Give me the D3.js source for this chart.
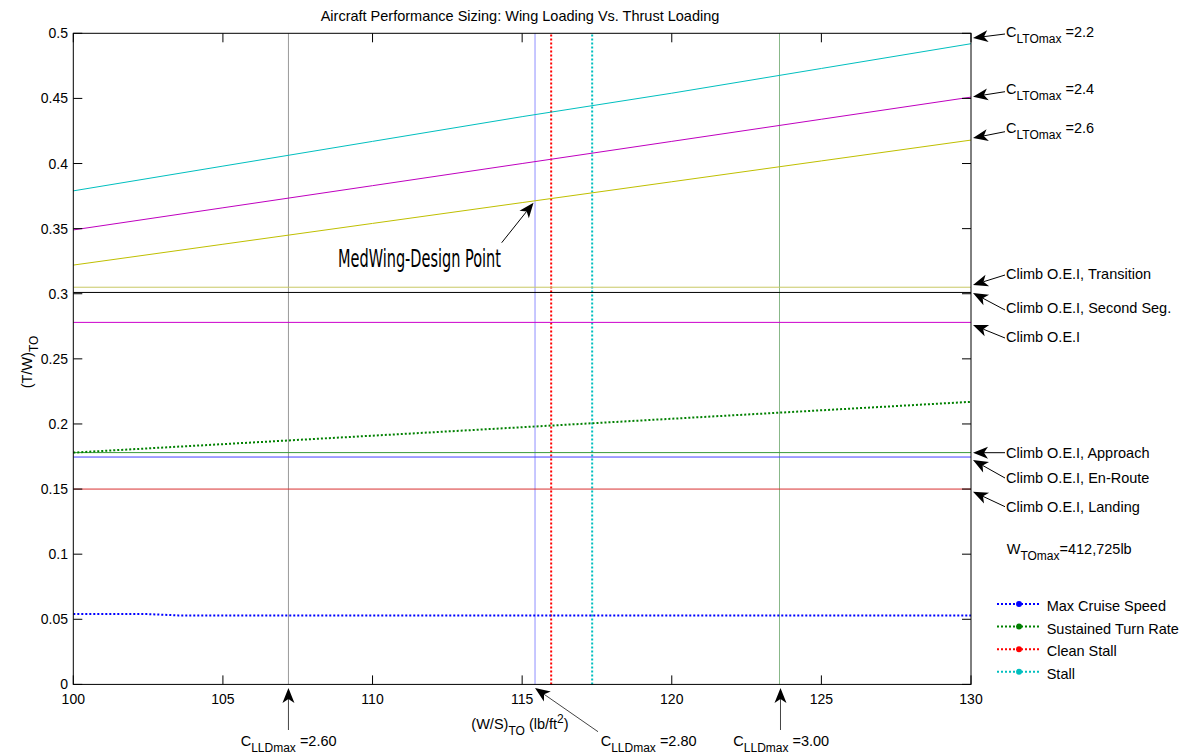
<!DOCTYPE html>
<html>
<head>
<meta charset="utf-8">
<script src="https://cdn.jsdelivr.net/npm/d3@7"></script>
<style>
  html, body { margin: 0; padding: 0; background: #fff; }
  svg { display: block; font-family: "Liberation Sans", Arial, sans-serif; }
</style>
</head>
<body>
<svg id="chart" width="1189" height="755"></svg>
<script>
// Wing loading sample points (lb/ft^2)
const wingLoading = [100, 105, 110, 115, 120, 125, 130];

// Take-off field length constraint, one curve per CLTOmax
const cltoMax22 = [0.379, 0.398, 0.417, 0.436, 0.454, 0.473, 0.492];
const cltoMax24 = [0.349, 0.366, 0.383, 0.400, 0.417, 0.434, 0.451];
const cltoMax26 = [0.322, 0.338, 0.354, 0.370, 0.386, 0.402, 0.418];
const cltoLabels = ["2.2", "2.4", "2.6"];

// Sustained turn rate constraint
const turnRate = [0.178, 0.1845, 0.191, 0.1975, 0.204, 0.2105, 0.217];

// Max cruise speed constraint
const cruiseWS = [100, 102.5, 103.5, 130];
const cruiseTW = [0.054, 0.054, 0.053, 0.053];

// One-engine-inoperative climb requirements (T/W)
const climbNames = ["Climb O.E.I, Transition", "Climb O.E.I, Second Seg.", "Climb O.E.I",
                    "Climb O.E.I, Approach", "Climb O.E.I, En-Route", "Climb O.E.I, Landing"];
const climbTW = [0.305, 0.301, 0.278, 0.178, 0.1746, 0.150];

// Landing field length constraint (W/S) per CLLDmax
const clldLabels = ["2.60", "2.80", "3.00"];
const landingWS = [107.19, 115.43, 123.6];

// Stall constraints (W/S)
const cleanStallWS = 115.97;
const stallWS = 117.34;

// Chosen design point
const designWS = 115.43;
const designTW = 0.371;

// Axis ticks
const xTicks = [100, 105, 110, 115, 120, 125, 130];
const yTicks = [0, 0.05, 0.1, 0.15, 0.2, 0.25, 0.3, 0.35, 0.4, 0.45, 0.5];
const legendNames = ["Max Cruise Speed", "Sustained Turn Rate", "Clean Stall", "Stall"];

// ---------------------------------------------------------------
const svg = d3.select("#chart");
const L = 73.3, R = 971, T = 33.3, B = 684.4;
const x = d3.scaleLinear().domain([100, 130]).range([L, R]);
const y = d3.scaleLinear().domain([0, 0.5]).range([B, T]);
const FS = 14.5, SUB = 12;

const C = {
  cyan: "#00bfbf", magenta: "#bf00bf", yellow: "#bfbf00",
  green: "#008000", blue: "#0000ff", red: "#ff0000"
};

const plot = svg.append("g");

// vertical constraint lines
const landingColors = ["#9a9a9a", "#9090ff", "#88b888"];
landingWS.forEach((ws, i) => {
  plot.append("line").attr("x1", x(ws)).attr("x2", x(ws)).attr("y1", y(0)).attr("y2", y(0.5))
    .attr("stroke", landingColors[i]).attr("stroke-width", 1);
});
plot.append("line").attr("x1", x(cleanStallWS)).attr("x2", x(cleanStallWS)).attr("y1", y(0)).attr("y2", y(0.5))
  .attr("stroke", C.red).attr("stroke-width", 2).attr("stroke-dasharray", "2,2");
plot.append("line").attr("x1", x(stallWS)).attr("x2", x(stallWS)).attr("y1", y(0)).attr("y2", y(0.5))
  .attr("stroke", C.cyan).attr("stroke-width", 2).attr("stroke-dasharray", "2,2");

// horizontal climb requirements
const climbColors = ["#c8c864", "#000000", "#cc00cc", "#3a9a3a", "#4040ff", "#d83030"];
climbTW.forEach((v, i) => {
  plot.append("line").attr("x1", x(100)).attr("x2", x(130)).attr("y1", y(v)).attr("y2", y(v))
    .attr("stroke", climbColors[i]).attr("stroke-width", 1);
});

// take-off curves
const line = d3.line().x((d, i) => x(wingLoading[i])).y(d => y(d));
[[cltoMax22, C.cyan], [cltoMax24, C.magenta], [cltoMax26, C.yellow]].forEach(([s, c]) => {
  plot.append("path").attr("d", line(s)).attr("fill", "none").attr("stroke", c).attr("stroke-width", 1);
});

// turn rate and cruise
plot.append("path").attr("d", line(turnRate)).attr("fill", "none")
  .attr("stroke", C.green).attr("stroke-width", 2).attr("stroke-dasharray", "2,2");
const cruiseLine = d3.line().x((d, i) => x(cruiseWS[i])).y(d => y(d));
plot.append("path").attr("d", cruiseLine(cruiseTW)).attr("fill", "none")
  .attr("stroke", C.blue).attr("stroke-width", 2).attr("stroke-dasharray", "2,2");

// axes box and ticks (inward)
const ax = svg.append("g");
ax.append("rect").attr("x", L).attr("y", T).attr("width", R - L).attr("height", B - T)
  .attr("fill", "none").attr("stroke", "#000").attr("stroke-width", 1);
const TK = 9;
xTicks.forEach(t => {
  ax.append("line").attr("x1", x(t)).attr("x2", x(t)).attr("y1", B).attr("y2", B - TK).attr("stroke", "#000");
  ax.append("line").attr("x1", x(t)).attr("x2", x(t)).attr("y1", T).attr("y2", T + TK).attr("stroke", "#000");
  ax.append("text").attr("x", x(t)).attr("y", 704).attr("text-anchor", "middle")
    .attr("font-size", 14).text(d3.format("d")(t));
});
yTicks.forEach(t => {
  ax.append("line").attr("x1", L).attr("x2", L + TK).attr("y1", y(t)).attr("y2", y(t)).attr("stroke", "#000");
  ax.append("line").attr("x1", R).attr("x2", R - TK).attr("y1", y(t)).attr("y2", y(t)).attr("stroke", "#000");
  ax.append("text").attr("x", 68).attr("y", y(t) + 5).attr("text-anchor", "end")
    .attr("font-size", 14).text(d3.format("~g")(t));
});

// title and axis labels
svg.append("text").attr("x", 520).attr("y", 21).attr("text-anchor", "middle").attr("font-size", FS)
  .text("Aircraft Performance Sizing: Wing Loading Vs. Thrust Loading");

const xl = svg.append("text").attr("x", 520).attr("y", 729).attr("text-anchor", "middle").attr("font-size", FS);
xl.append("tspan").text("(W/S)");
xl.append("tspan").attr("dy", 6).attr("font-size", SUB).text("TO");
xl.append("tspan").attr("dy", -6).text(" (lb/ft");
xl.append("tspan").attr("dy", -6).attr("font-size", SUB).text("2");
xl.append("tspan").attr("dy", 6).text(")");

const yl = svg.append("text").attr("transform", "translate(32,362) rotate(-90)")
  .attr("text-anchor", "middle").attr("font-size", FS);
yl.append("tspan").text("(T/W)");
yl.append("tspan").attr("dy", 6).attr("font-size", SUB).text("TO");

// arrow helper: tail (x1,y1) -> tip (x2,y2)
function arrow(x1, y1, x2, y2, stroke) {
  const dx = x2 - x1, dy = y2 - y1, len = Math.hypot(dx, dy);
  const ux = dx / len, uy = dy / len, px = -uy, py = ux;
  const hl = 15, hw = 6, nb = 11;
  svg.append("line").attr("x1", x1).attr("y1", y1)
    .attr("x2", x2 - ux * nb).attr("y2", y2 - uy * nb)
    .attr("stroke", stroke || "#000").attr("stroke-width", 1);
  const pts = [
    [x2, y2],
    [x2 - ux * hl + px * hw, y2 - uy * hl + py * hw],
    [x2 - ux * nb, y2 - uy * nb],
    [x2 - ux * hl - px * hw, y2 - uy * hl - py * hw]
  ];
  svg.append("path").attr("d", "M" + pts.map(p => p.join(",")).join("L") + "Z").attr("fill", "#000");
}

function subText(xp, yp, main, sub, rest, anchor) {
  const t = svg.append("text").attr("x", xp).attr("y", yp).attr("font-size", FS)
    .attr("text-anchor", anchor || "start");
  t.append("tspan").text(main);
  t.append("tspan").attr("dy", 6).attr("font-size", SUB).text(sub);
  t.append("tspan").attr("dy", -6).text(rest);
  return t;
}

// CLTOmax annotations
const cltoAnn = [
  { tip: [973, 38], tail: [1005, 34], base: 37.3 },
  { tip: [973, 96.7], tail: [1005, 91.7], base: 94 },
  { tip: [973, 138], tail: [1005, 131.7], base: 133.3 }
];
cltoAnn.forEach((a, i) => {
  arrow(a.tail[0], a.tail[1], a.tip[0], a.tip[1]);
  subText(1006, a.base, "C", "LTOmax", " =" + cltoLabels[i]);
});

// climb annotations
const climbAnn = [
  { tip: [973, 285], tail: [1005, 275], base: 279.3 },
  { tip: [973, 293], tail: [1005, 310], base: 313.3 },
  { tip: [973, 325], tail: [1005, 338], base: 342.3 },
  { tip: [973, 452.7], tail: [1005, 452.7], base: 457.7 },
  { tip: [973, 460], tail: [1005, 478], base: 482.7 },
  { tip: [973, 491.7], tail: [1005, 506.7], base: 512.3 }
];
climbAnn.forEach((a, i) => {
  arrow(a.tail[0], a.tail[1], a.tip[0], a.tip[1]);
  svg.append("text").attr("x", 1006).attr("y", a.base).attr("font-size", FS).text(climbNames[i]);
});

// CLLDmax annotations
const clldAnn = [
  { tail: [x(landingWS[0]), 730], tip: [x(landingWS[0]), 688], text: 240.7 },
  { tail: [598, 731.7], tip: [x(landingWS[1]), 688], text: 600.7 },
  { tail: [x(landingWS[2]) + 1, 730], tip: [x(landingWS[2]) + 1, 688], text: 733.3 }
];
clldAnn.forEach((a, i) => {
  arrow(a.tail[0], a.tail[1], a.tip[0], a.tip[1], "#444");
  subText(a.text, 746, "C", "LLDmax", " =" + clldLabels[i]);
});

// design point
arrow(501.7, 242.7, x(designWS) - 1.5, y(designTW) + 1.5);
svg.append("text").attr("x", 338).attr("y", 267.3)
  .attr("font-family", "'DejaVu Sans Condensed', 'DejaVu Sans', sans-serif")
  .attr("font-size", 24.5).attr("textLength", 163).attr("lengthAdjust", "spacingAndGlyphs")
  .text("MedWing-Design Point");

// max take-off weight note
const wt = svg.append("text").attr("x", 1006.7).attr("y", 554).attr("font-size", FS);
wt.append("tspan").text("W");
wt.append("tspan").attr("dy", 6).attr("font-size", SUB).text("TOmax");
wt.append("tspan").attr("dy", -6).text("=412,725lb");

// legend
const legendColors = [C.blue, C.green, C.red, C.cyan];
legendNames.forEach((n, i) => {
  const ly = 604 + i * 22.6;
  svg.append("line").attr("x1", 997).attr("x2", 1041).attr("y1", ly).attr("y2", ly)
    .attr("stroke", legendColors[i]).attr("stroke-width", 2).attr("stroke-dasharray", "2,2");
  svg.append("circle").attr("cx", 1019).attr("cy", ly).attr("r", 3).attr("fill", legendColors[i]);
  svg.append("text").attr("x", 1046.7).attr("y", ly + 7).attr("font-size", FS).text(n);
});
</script>
</body>
</html>
